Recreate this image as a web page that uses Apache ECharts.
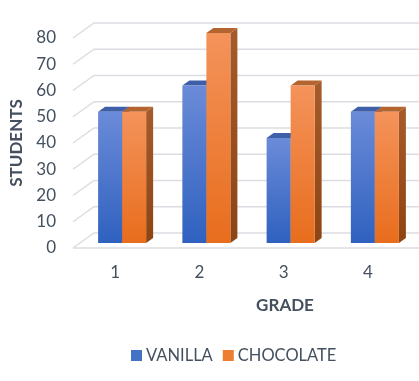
<!DOCTYPE html>
<html><head><meta charset="utf-8">
<script src="https://cdn.jsdelivr.net/npm/echarts@6/dist/echarts.min.js"></script>
<style>html,body{margin:0;padding:0;background:#fff}#c{width:419px;height:381px}</style>
</head><body><div id="c"></div>
<script>
const categories = ['1', '2', '3', '4'];
const vanilla = [50, 60, 40, 50];
const chocolate = [50, 80, 60, 50];
const yTicks = [0, 10, 20, 30, 40, 50, 60, 70, 80];
const seriesNames = ['VANILLA', 'CHOCOLATE'];

const TEXT = '#44505e';
const FONT = 'Lato';
const GRIDC = '#dcdde2';
const BAR_FRAC = 0.285;
const DX = 7, DY = -5;      // bar depth
const WDX = 21, WDY = -15;  // wall depth

const styles = [
  { front: ['#6b8bd8', '#2f61bf'], top: '#3f5fa8', side: ['#2e4f96', '#234283'] },
  { front: ['#f4935b', '#e86d1d'], top: '#b3642f', side: ['#a65c2a', '#8c4412'] }
];

function barRender(si) {
  return function (params, api) {
    const cat = api.value(0), val = api.value(1);
    const t = api.coord([cat, val]);
    const b = api.coord([cat, 0]);
    const bw = api.size([1, 0])[0] * BAR_FRAC;
    const x0 = t[0] + (si === 0 ? -bw : 0);
    const x1 = x0 + bw;
    const st = styles[si];
    return {
      type: 'group',
      children: [
        { type: 'polygon', shape: { points: [[x1, t[1]], [x1 + DX, t[1] + DY], [x1 + DX, b[1] + DY], [x1, b[1]]] },
          style: { fill: new echarts.graphic.LinearGradient(0, 0, 0, 1, [{ offset: 0, color: st.side[0] }, { offset: 1, color: st.side[1] }]) } },
        { type: 'polygon', shape: { points: [[x0, t[1]], [x1, t[1]], [x1 + DX, t[1] + DY], [x0 + DX, t[1] + DY]] },
          style: { fill: st.top } },
        { type: 'rect', shape: { x: x0, y: t[1], width: bw, height: b[1] - t[1] },
          style: { fill: new echarts.graphic.LinearGradient(0, 0, 0, 1, [{ offset: 0, color: st.front[0] }, { offset: 1, color: st.front[1] }]) } }
      ]
    };
  };
}

function wallRender(params, api) {
  const v = api.value(1);
  const y = api.coord([0, v])[1];
  const x = params.coordSys.x;
  const children = [
    { type: 'polyline', shape: { points: [[x, y], [x + WDX, y + WDY], [x + WDX + 420, y + WDY]] },
      style: { stroke: GRIDC, lineWidth: 1.5, fill: null } }
  ];
  if (v === 0) {
    children.push({ type: 'line', shape: { x1: x, y1: y, x2: x + 420, y2: y },
      style: { stroke: GRIDC, lineWidth: 1.5 } });
  }
  return { type: 'group', children };
}

const chart = echarts.init(document.getElementById('c'));
chart.setOption({
  animation: false,
  textStyle: { fontFamily: FONT },
  grid: [
    { left: 73, top: 38, width: 337, height: 210 },
    { left: 80, top: 33, width: 337, height: 210 }
  ],
  xAxis: [
    { gridIndex: 0, type: 'category', data: categories, axisLine: { show: false }, axisTick: { show: false },
      axisLabel: { color: TEXT, fontSize: 17, margin: 16, fontFamily: FONT } },
    { gridIndex: 1, type: 'category', data: categories, show: false }
  ],
  yAxis: [
    { gridIndex: 0, type: 'value', min: 0, max: 80, interval: 10, splitLine: { show: false },
      axisLine: { show: false }, axisTick: { show: false },
      axisLabel: { color: TEXT, fontSize: 17, margin: 17, fontFamily: FONT } },
    { gridIndex: 1, type: 'value', min: 0, max: 80, interval: 10, show: false, splitLine: { show: false } }
  ],
  legend: {
    data: seriesNames, left: 131, top: 347, padding: 0, icon: 'rect', itemWidth: 11, itemHeight: 11, itemGap: 10,
    textStyle: { color: TEXT, fontSize: 16.5, fontFamily: FONT, padding: [0, 0, 0, -1] }
  },
  graphic: [
    { type: 'text', x: 17, y: 143, rotation: Math.PI / 2,
      style: { text: 'STUDENTS', fill: TEXT, font: 'bold 17px ' + FONT, align: 'center', verticalAlign: 'middle' } },
    { type: 'text', x: 285, y: 306,
      style: { text: 'GRADE', fill: TEXT, font: 'bold 17px ' + FONT, align: 'center', verticalAlign: 'middle' } }
  ],
  series: [
    { type: 'custom', name: 'wall', xAxisIndex: 0, yAxisIndex: 0, z: 1, silent: true,
      data: yTicks.map(v => [0, v]), renderItem: wallRender },
    { type: 'custom', name: seriesNames[0], xAxisIndex: 1, yAxisIndex: 1, z: 2, itemStyle: { color: '#4472c4' },
      data: vanilla.map((v, i) => [i, v]), renderItem: barRender(0) },
    { type: 'custom', name: seriesNames[1], xAxisIndex: 1, yAxisIndex: 1, z: 3, itemStyle: { color: '#ed7d31' },
      data: chocolate.map((v, i) => [i, v]), renderItem: barRender(1) }
  ]
});
</script></body></html>
